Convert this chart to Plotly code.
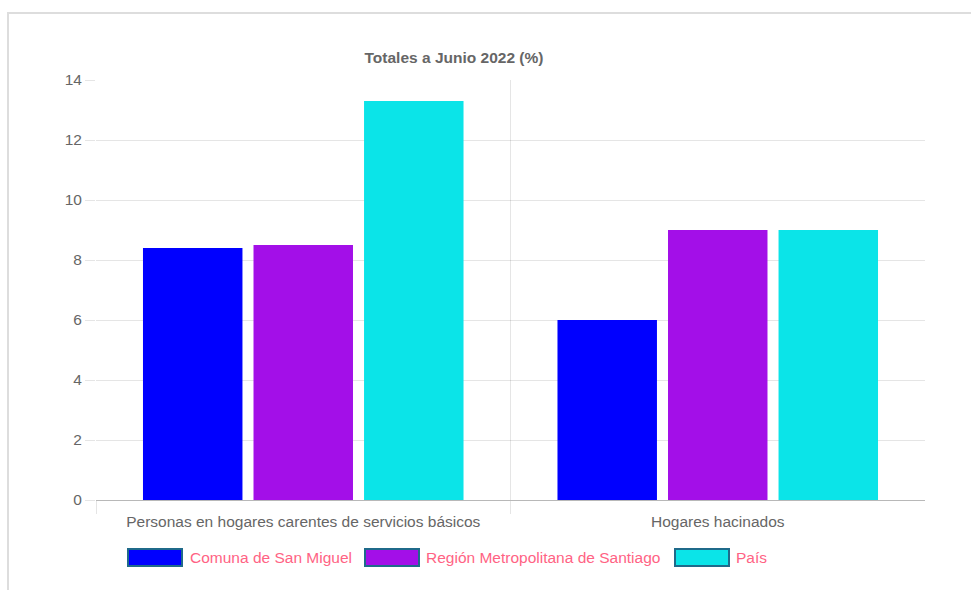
import plotly.graph_objects as go

# Data
categories = ["Personas en hogares carentes de servicios básicos", "Hogares hacinados"]
series_names = ["Comuna de San Miguel", "Región Metropolitana de Santiago", "País"]
san_miguel = [8.4, 6.0]
region_metropolitana = [8.5, 9.0]
pais = [13.3, 9.0]
series_values = [san_miguel, region_metropolitana, pais]
series_colors = ["#0000FF", "#A30FE8", "#0BE4E8"]
y_ticks = [0, 2, 4, 6, 8, 10, 12, 14]

W, H = 971, 590
L, R, T, B = 96, 925, 80, 500  # plot area in pixels

def px_x(px):
    return (px - L) / (R - L)

def px_y(py):
    return (B - py) / (B - T)

FONT = "Liberation Sans, Arial, Helvetica, sans-serif"
FS = 15.5
GRID = "rgba(0,0,0,0.1)"

x_pos = list(range(len(categories)))

fig = go.Figure()
for name, vals, col in zip(series_names, series_values, series_colors):
    fig.add_trace(go.Bar(
        x=x_pos, y=vals, name=name,
        marker=dict(color=col, line=dict(width=0)),
        showlegend=False,
    ))

# Custom legend: wide swatches with a dark outline, pink labels
legend_items = [(128, 190), (365, 426), (675, 736)]
shapes = []
annotations = []
for (bx, tx), name, col in zip(legend_items, series_names, series_colors):
    shapes.append(dict(
        type="rect", xref="paper", yref="paper",
        x0=px_x(bx), x1=px_x(bx + 54), y0=px_y(566), y1=px_y(549),
        fillcolor=col, line=dict(color="#1F6A8A", width=2), layer="above",
    ))
    annotations.append(dict(
        text=name, xref="paper", yref="paper",
        x=px_x(tx - 2), y=px_y(557.5), xanchor="left", yanchor="middle",
        showarrow=False, font=dict(family=FONT, size=FS, color="#FF6384"),
    ))

# Outer frame of the chart card
shapes.append(dict(
    type="rect", xref="paper", yref="paper",
    x0=px_x(8), x1=px_x(990), y0=px_y(13), y1=px_y(620),
    line=dict(color="#DDDDDD", width=2), fillcolor="rgba(0,0,0,0)", layer="below",
))

fig.update_layout(
    width=W, height=H, autosize=False,
    margin=dict(l=L, r=W - R, t=T, b=H - B, pad=0),
    paper_bgcolor="white", plot_bgcolor="white",
    barmode="group", bargap=0.2, bargroupgap=0.1,
    title=dict(
        text="<b>Totales a Junio 2022 (%)</b>",
        x=454 / W, xanchor="center", y=1 - 58 / H, yanchor="middle",
        font=dict(family=FONT, size=FS, color="#666666"),
    ),
    font=dict(family=FONT, size=FS, color="#666666"),
    shapes=shapes,
    annotations=annotations,
    showlegend=False,
)

fig.update_xaxes(
    range=[-0.5, len(categories) - 0.5],
    tickvals=x_pos, ticktext=categories,
    ticks="", showgrid=False, zeroline=False, showline=False,
    ticklabelstandoff=10,
    tickfont=dict(family=FONT, size=FS, color="#666666"),
    minor=dict(
        tickvals=[i - 0.5 for i in x_pos],
        showgrid=True, gridcolor=GRID, gridwidth=1,
        ticks="outside", ticklen=13, tickcolor=GRID, tickwidth=1,
    ),
    fixedrange=True,
)

fig.update_yaxes(
    range=[0, 14], tickvals=y_ticks,
    showgrid=True, gridcolor=GRID, gridwidth=1,
    ticks="outside", ticklen=10, tickcolor=GRID,
    zeroline=True, zerolinecolor="rgba(0,0,0,0.28)", zerolinewidth=1,
    showline=False,
    tickfont=dict(family=FONT, size=FS, color="#666666"),
    fixedrange=True,
)

fig.write_html("out.html")
